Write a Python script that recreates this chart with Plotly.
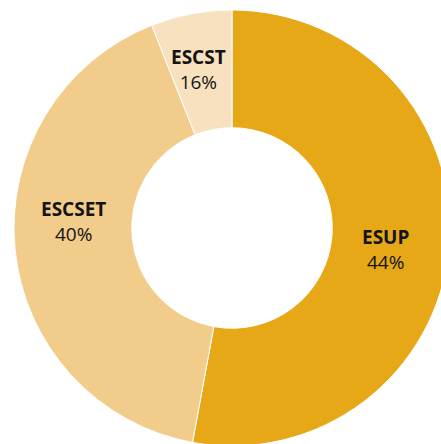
import plotly.graph_objects as go

labels = ["ESUP", "ESCSET", "ESCST"]
values = [52.9, 41.1, 6.0]
label_texts = ["44%", "40%", "16%"]
colors = ["#E6A817", "#F2CC8B", "#F7E1BF"]

W, H = 460, 460

# label anchor positions in page pixels (centre of each label block)
label_pos = {"ESUP": (385, 249), "ESCSET": (73, 221), "ESCST": (198, 69)}

fig = go.Figure(
    go.Pie(
        labels=labels,
        values=values,
        text=label_texts,
        textinfo="none",
        marker=dict(colors=colors, line=dict(color="white", width=1)),
        hole=0.46,
        sort=False,
        direction="clockwise",
        rotation=0,
        showlegend=False,
        domain=dict(x=[14 / W, 450 / W], y=[(H - 446) / H, (H - 10) / H]),
        hoverinfo="label+text",
    )
)

for lab, txt in zip(labels, label_texts):
    px, py = label_pos[lab]
    fig.add_annotation(
        x=px / W,
        y=1 - py / H,
        xref="paper",
        yref="paper",
        text=f"<b>{lab}</b><br>{txt}",
        showarrow=False,
        xanchor="center",
        yanchor="middle",
        align="center",
        font=dict(family="Open Sans, Noto Sans, sans-serif", size=19, color="#141414"),
    )

fig.update_layout(
    width=W,
    height=H,
    margin=dict(l=0, r=0, t=0, b=0),
    paper_bgcolor="white",
    plot_bgcolor="white",
)

fig.write_html(
    "out.html",
    config={"displayModeBar": False},
    post_script="document.body.style.margin='0';document.body.style.overflow='hidden';document.documentElement.style.overflow='hidden';",
)
